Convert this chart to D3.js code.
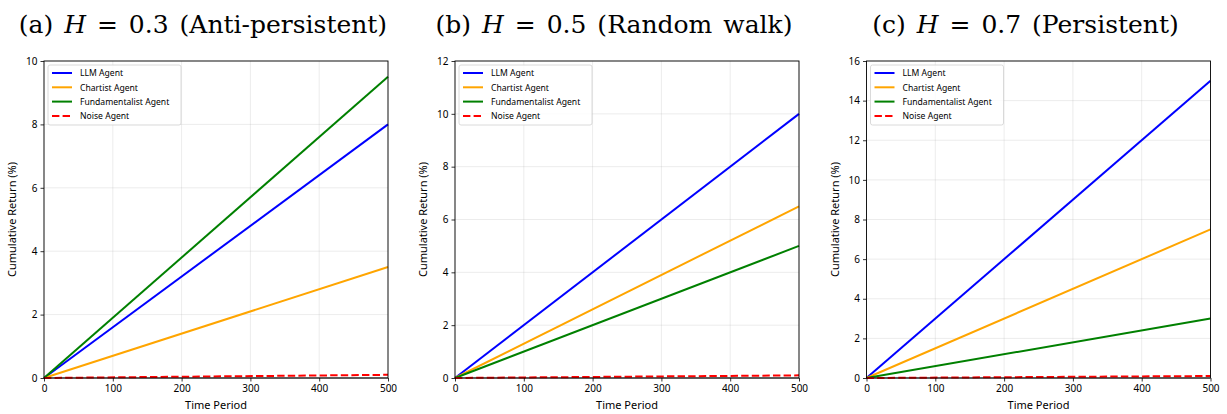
<!DOCTYPE html>
<html><head><meta charset="utf-8">
<script src="https://cdn.jsdelivr.net/npm/d3@7"></script>
<style>
body{margin:0;background:#fff;}
svg text{font-family:"Noto Sans","DejaVu Sans",sans-serif;}
</style></head>
<body><svg id="c" width="1227" height="414"></svg>
<script>
const timeDomain = [0, 500];
const timePoints = [0, 500];
const agents = ["LLM Agent", "Chartist Agent", "Fundamentalist Agent", "Noise Agent"];
const agentColors = ["#0000ff", "#ffa500", "#008000", "#ff0000"];
const panelLetters = ["(a)", "(b)", "(c)"];
const hurstValues = ["0.3", "0.5", "0.7"];
const regimeNames = ["Anti-persistent", "Random walk", "Persistent"];
const yMaxes = [10, 12, 16];
const xTicks = [0, 100, 200, 300, 400, 500];
// end values for each agent (start at 0)
const llmA = [0, 8.0],  chartA = [0, 3.5], fundA = [0, 9.5], noiseA = [0, 0.1];
const llmB = [0, 10.0], chartB = [0, 6.5], fundB = [0, 5.0], noiseB = [0, 0.1];
const llmC = [0, 15.0], chartC = [0, 7.5], fundC = [0, 3.0], noiseC = [0, 0.1];
const panelSeries = [[llmA, chartA, fundA, noiseA],[llmB, chartB, fundB, noiseB],[llmC, chartC, fundC, noiseC]];

const svg = d3.select("#c");
const lefts = [44, 455, 866.5];
const W = 344, plotTop = 61, plotBottom = 378;

panelSeries.forEach((series, p) => {
  const x = d3.scaleLinear().domain(timeDomain).range([lefts[p], lefts[p] + W]);
  const y = d3.scaleLinear().domain([0, yMaxes[p]]).range([plotBottom, plotTop]);
  const g = svg.append("g");
  const yTicks = d3.range(0, yMaxes[p] + 1, 2);
  // grid
  g.append("g").selectAll("line").data(xTicks).join("line")
    .attr("x1", d => x(d)).attr("x2", d => x(d)).attr("y1", plotTop).attr("y2", plotBottom)
    .attr("stroke", "#b0b0b0").attr("stroke-opacity", 0.3).attr("stroke-width", 0.8);
  g.append("g").selectAll("line").data(yTicks).join("line")
    .attr("y1", d => y(d)).attr("y2", d => y(d)).attr("x1", x(0)).attr("x2", x(500))
    .attr("stroke", "#b0b0b0").attr("stroke-opacity", 0.3).attr("stroke-width", 0.8);
  // zero line
  g.append("line").attr("x1", x(0)).attr("x2", x(500)).attr("y1", y(0)).attr("y2", y(0))
    .attr("stroke", "#808080").attr("stroke-width", 1.5).attr("stroke-opacity", 0.9);
  // series
  const line = d3.line().x((d, i) => x(timePoints[i])).y(d => y(d));
  series.forEach((s, k) => {
    g.append("path").datum(s).attr("d", line).attr("fill", "none")
      .attr("stroke", agentColors[k]).attr("stroke-width", 2)
      .attr("stroke-dasharray", k === 3 ? "7.4,3.2" : null);
  });
  // frame
  g.append("rect").attr("x", x(0)).attr("y", plotTop).attr("width", W).attr("height", plotBottom - plotTop)
    .attr("fill", "none").attr("stroke", "#000").attr("stroke-width", 0.9);
  // axes
  const xa = g.append("g").attr("transform", `translate(0,${plotBottom})`)
    .call(d3.axisBottom(x).tickValues(xTicks).tickSize(3.5).tickPadding(3));
  const ya = g.append("g").attr("transform", `translate(${x(0)},0)`)
    .call(d3.axisLeft(y).tickValues(yTicks).tickSize(3.5).tickPadding(3));
  [xa, ya].forEach(a => {
    a.select(".domain").remove();
    a.selectAll("text").attr("font-size", 10).attr("fill", "#000")
      .style("font-family", '"Noto Sans", sans-serif');
    a.selectAll("line").attr("stroke", "#000").attr("stroke-width", 0.8);
  });
  // labels
  g.append("text").attr("x", x(250)).attr("y", 409).attr("text-anchor", "middle")
    .attr("font-size", 11).text("Time Period");
  g.append("text").attr("transform", `translate(${lefts[p] - 28},${(plotTop + plotBottom) / 2}) rotate(-90)`)
    .attr("text-anchor", "middle").attr("font-size", 11).text("Cumulative Return (%)");
  // title
  const t = g.append("text").attr("x", x(250) - 13).attr("y", 33).attr("text-anchor", "middle")
    .style("font-family", '"DejaVu Serif","Liberation Serif",serif').style("word-spacing", "3px")
    .attr("font-size", 25).attr("fill", "#000");
  t.append("tspan").text(panelLetters[p] + " ");
  t.append("tspan").attr("font-style", "italic").text("H");
  t.append("tspan").text(" = " + hurstValues[p] + " (" + regimeNames[p] + ")");
  // legend
  const lx = lefts[p] + 4, ly = plotTop + 4;
  const lg = g.append("g");
  lg.append("rect").attr("x", lx).attr("y", ly).attr("width", 133).attr("height", 60).attr("rx", 2)
    .attr("fill", "#fff").attr("fill-opacity", 0.8).attr("stroke", "#d0d0d0").attr("stroke-width", 0.8);
  agents.forEach((a, k) => {
    const yy = ly + 8 + k * 14.3;
    lg.append("line").attr("x1", lx + 4).attr("x2", lx + 24).attr("y1", yy).attr("y2", yy)
      .attr("stroke", agentColors[k]).attr("stroke-width", 2)
      .attr("stroke-dasharray", k === 3 ? "7.4,3.2" : null);
    lg.append("text").attr("x", lx + 32).attr("y", yy + 3.3).attr("font-size", 8.6).text(a);
  });
});
</script></body></html>
